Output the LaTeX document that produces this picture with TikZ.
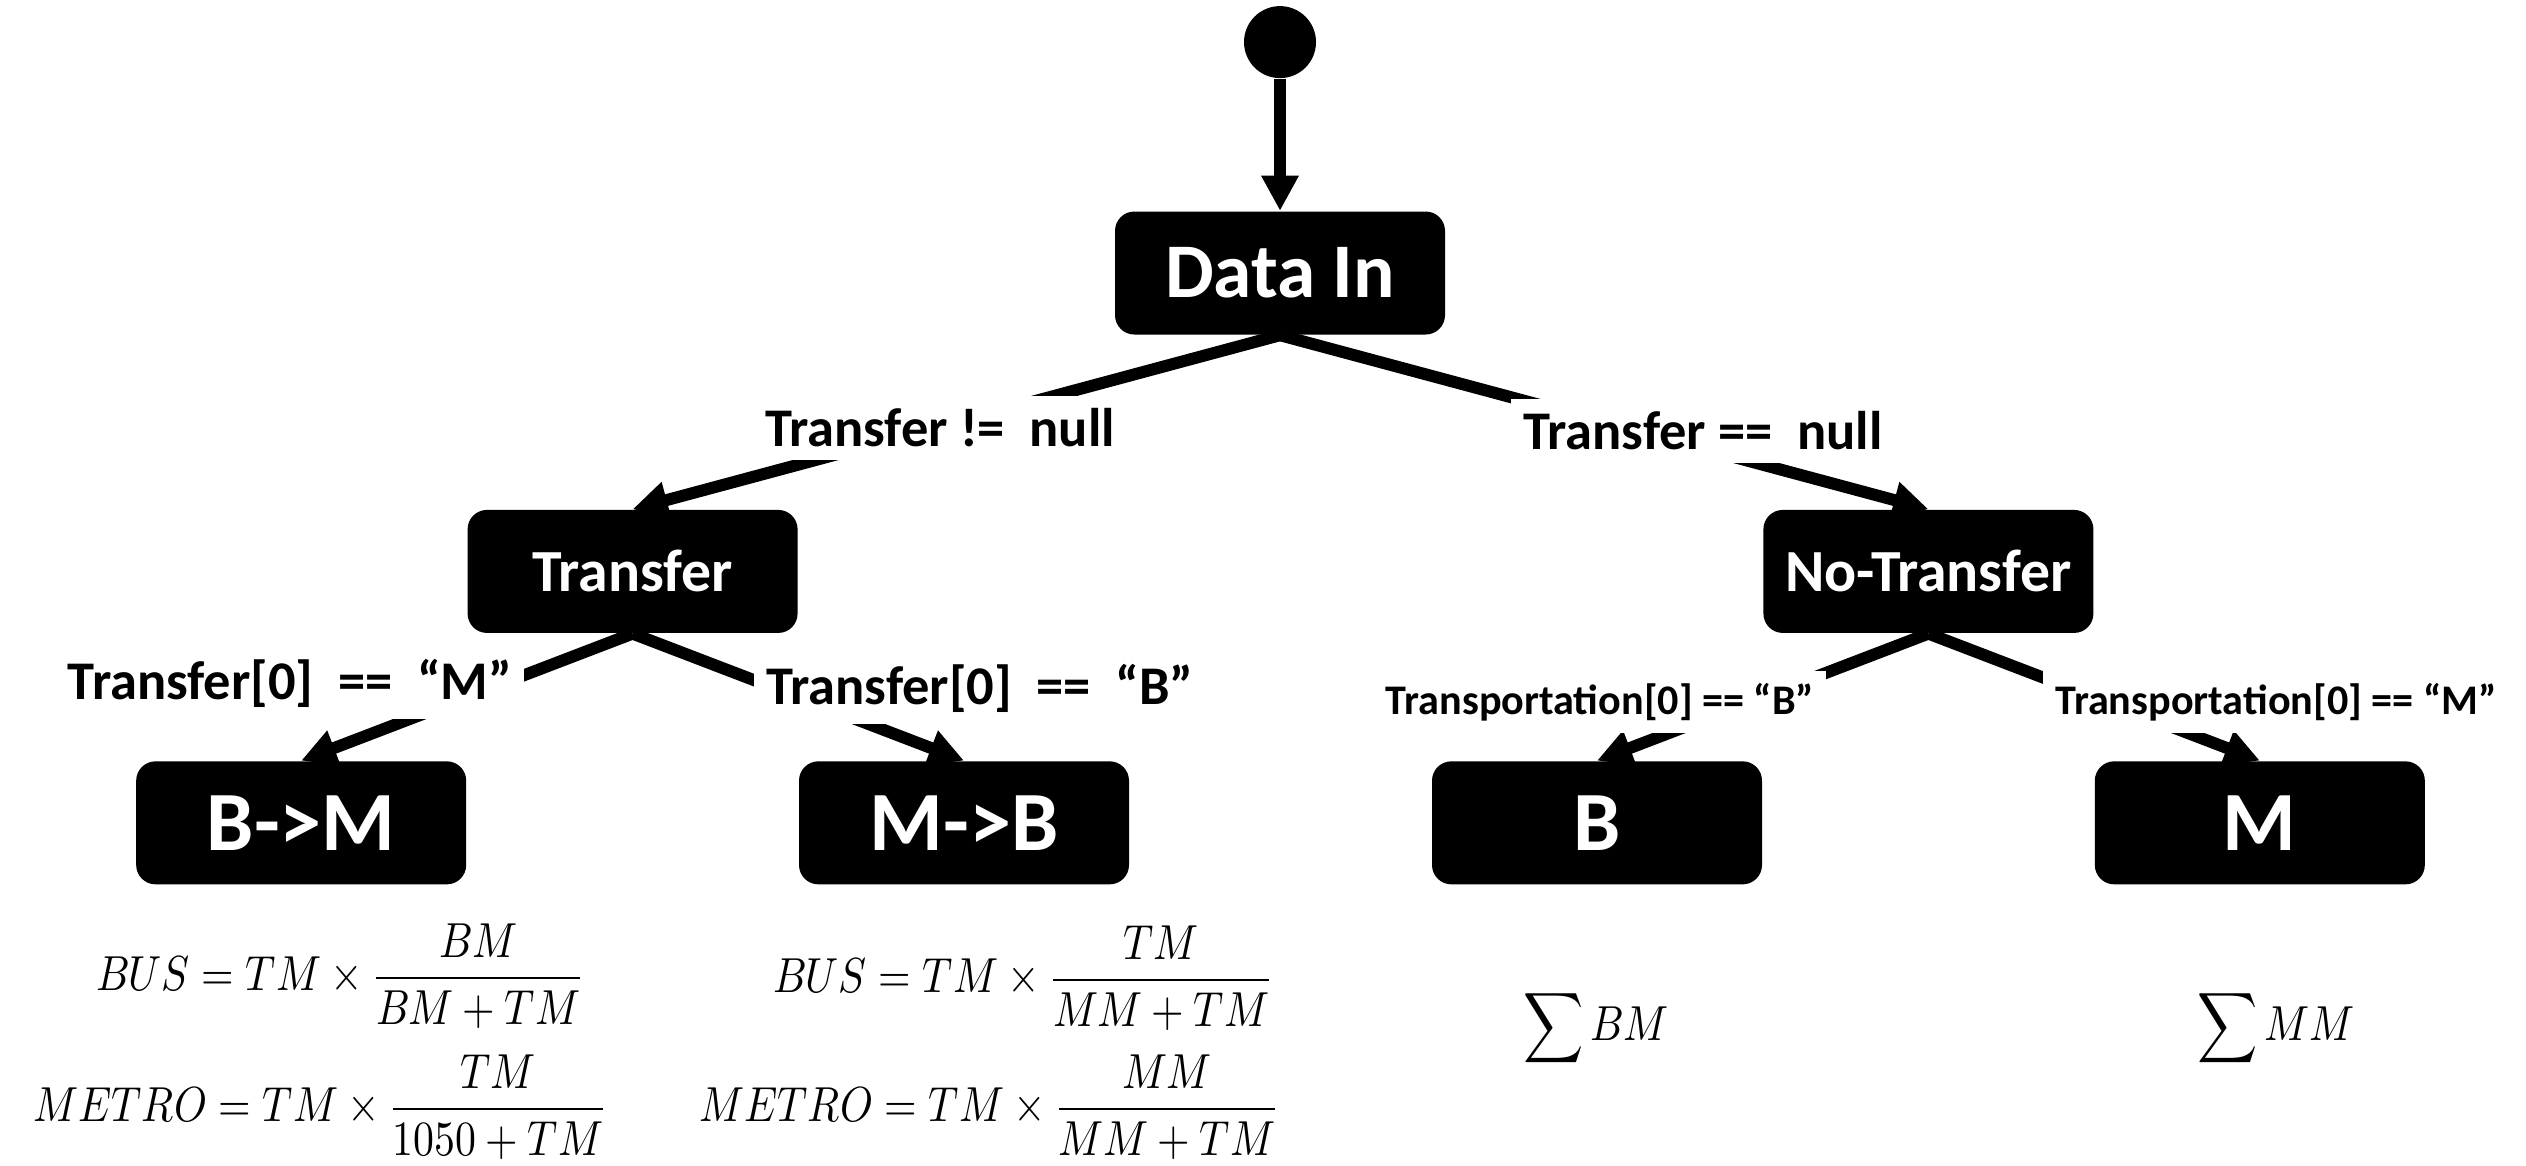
\documentclass[tikz,border=0pt]{standalone}
\usepackage{amsmath}
\usepackage{fontspec}
\usepackage{unicode-math}
\setmainfont{Carlito}
\usepackage{tikz}
\usetikzlibrary{arrows.meta, positioning}

\begin{document}
\begin{tikzpicture}[
    node distance=1.27cm and 0cm,
    box/.style={rectangle, fill=black, text=white, rounded corners=5.5pt, minimum width=3.3cm, minimum height=1.23cm, inner sep=2pt, align=center},
    topbox/.style={box, font=\bfseries\fontsize{22}{26}\selectfont},
    midbox/.style={box, font=\bfseries\fontsize{17}{20}\selectfont},
    leafbox/.style={box, font=\bfseries\fontsize{24}{28}\selectfont},
    cond/.style={fill=white, inner sep=3.5pt, font=\bfseries\fontsize{15.5}{18}\selectfont},
    smallcond/.style={fill=white, inner sep=3.5pt, font=\bfseries\fontsize{12}{14}\selectfont},
    formula/.style={font=\fontsize{14}{17}\selectfont, xscale=0.85, transform shape},
    edge/.style={draw=black, line width=3.4pt, -{Triangle[length=10pt,width=10pt]}}
]
\useasboundingbox (0,0) rectangle (25.26,-11.65);

\node[topbox] (din) at (12.80,-2.73) {Data In};
\node[circle, fill=black, minimum size=0.72cm, inner sep=0pt, above=1.32cm of din] (start) {};
\node[midbox, below left=1.74cm and 3.16cm of din] (tr) {Transfer};
\node[midbox, below right=1.74cm and 3.17cm of din] (notr) {No-Transfer};
\node[leafbox, below left=of tr] (bm) {B->M};
\node[leafbox, below right=of tr] (mb) {M->B};
\node[leafbox, below left=of notr] (b) {B};
\node[leafbox, below right=of notr] (m) {M};

\draw[edge] (start) -- (din);
\draw[edge] (din.south) -- (tr.north);
\draw[edge] (din.south) -- (notr.north);
\draw[edge] (tr.south) -- (bm.north);
\draw[edge] (tr.south) -- (mb.north);
\draw[edge] (notr.south) -- (b.north);
\draw[edge] (notr.south) -- (m.north);

% conditions on the branches
\node[cond] (ne) at (9.40,-4.28) {Transfer != \ null};
\node[cond] (eq) at (17.03,-4.31) {Transfer == \ null};
\node[cond] (trm) at (2.90,-6.83) {Transfer[0] \ == \ “M”};
\node[cond] (trb) at (9.80,-6.88) {Transfer[0] \ == \ “B”};
\node[smallcond] (tpb) at (16.00,-7.02) {Transportation[0] == “B”};
\node[smallcond] (tpm) at (22.76,-7.02) {Transportation[0] == “M”};

% shares
\node[formula] (busbm) at (3.40,-9.76) {$BUS = TM \times \dfrac{BM}{BM+TM}$};
\node[formula] (metrobm) at (3.20,-11.07) {$METRO = TM \times \dfrac{TM}{1050+TM}$};
\node[formula] (busmb) at (10.23,-9.78) {$BUS = TM \times \dfrac{TM}{MM+TM}$};
\node[formula] (metromb) at (9.89,-11.07) {$METRO = TM \times \dfrac{MM}{MM+TM}$};
\node[formula] (sumb) at (15.96,-10.28) {$\displaystyle\sum BM$};
\node[formula] (summ) at (22.76,-10.28) {$\displaystyle\sum MM$};

\end{tikzpicture}
\end{document}
